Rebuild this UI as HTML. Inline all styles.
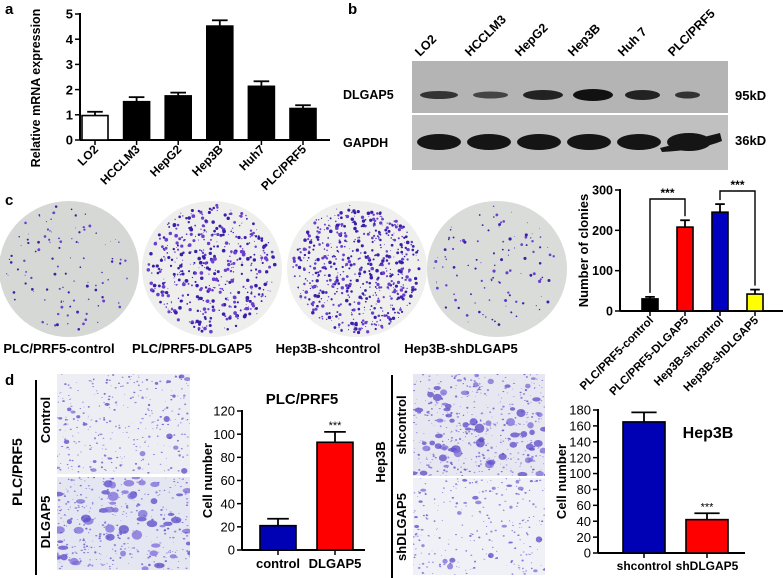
<!DOCTYPE html>
<html><head><meta charset="utf-8">
<style>
html,body{margin:0;padding:0;background:#fff;}
svg{display:block;font-family:"Liberation Sans",Arial,sans-serif;}
text{font-family:"Liberation Sans",Arial,sans-serif;}
</style></head>
<body>
<svg id="fig" width="783" height="578" viewBox="0 0 783 578" xmlns="http://www.w3.org/2000/svg">
<g id="art"></g>
<g id="charts"></g>
</svg>
<script>
// ---------- Panel a data ----------
const aCats = ["LO2","HCCLM3","HepG2","Hep3B","Huh7","PLC/PRF5"];
const aVals = [0.97,1.52,1.75,4.52,2.13,1.25];
const aErr = [0.15,0.18,0.13,0.23,0.2,0.13];
const aTicks = [0,1,2,3,4,5];
// ---------- Panel c chart data ----------
const cCats = ["PLC/PRF5-control","PLC/PRF5-DLGAP5","Hep3B-shcontrol","Hep3B-shDLGAP5"];
const cVals = [30,208,245,42];
const cErr = [5,17,20,11];
const cTicks = [0,100,200,300];
// ---------- Panel d left ----------
const d1Cats = ["control","DLGAP5"];
const d1Vals = [21,93];
const d1Err = [6,9];
const d1Ticks = [0,20,40,60,80,100,120];
// ---------- Panel d right ----------
const d2Cats = ["shcontrol","shDLGAP5"];
const d2Vals = [165,42];
const d2Err = [12,8];
const d2Ticks = [0,20,40,60,80,100,120,140,160,180];

const NS="http://www.w3.org/2000/svg";
const charts=document.getElementById('charts');
const art=document.getElementById('art');
function mk(tag,attrs,parent,txt){const e=document.createElementNS(NS,tag);for(const k in attrs)e.setAttribute(k,attrs[k]);if(txt!==undefined)e.textContent=txt;(parent||charts).appendChild(e);return e;}

let seed=12345;function rnd(){seed=(seed*1103515245+12345)%2147483648;return seed/2147483648;}

function barChart(o){
  const g=mk('g',{},charts);
  
  
  const y=v=>o.y0-(v-o.min)/(o.max-o.min)*(o.y0-o.y1);
  const bx=i=>o.barX[0]+i*o.step;
  const ya=mk('line',{x1:o.ax,y1:o.y1-1,x2:o.ax,y2:o.y0,stroke:'#000','stroke-width':2},g);
  
  const xa=mk('line',{x1:o.ax,y1:o.y0,x2:o.axEnd,y2:o.y0,stroke:'#000','stroke-width':2},g);
  
  o.ticks.forEach(t=>{
    mk('line',{x1:o.ax-5,y1:y(t),x2:o.ax,y2:y(t),stroke:'#000','stroke-width':1.5},g);
    const tl=mk('text',{x:o.ax-7,y:y(t)+o.fs*0.36,'text-anchor':'end','font-size':o.fs,'font-weight':o.tickBold?'bold':'normal'},g,t);
    
  });
  o.cats.forEach((c,i)=>{
    const x=bx(i),w=o.bw,v=o.vals[i];
    const top=y(v+o.err[i]);
    mk('line',{x1:x+w/2,y1:top,x2:x+w/2,y2:y(v),stroke:'#000','stroke-width':1.8},g);
    mk('line',{x1:x+w/2-w*0.3,y1:top,x2:x+w/2+w*0.3,y2:top,stroke:'#000','stroke-width':1.8},g);
    const r=mk('rect',{x:x,y:y(v),width:w,height:o.y0-y(v),fill:o.colors[i],stroke:'#000','stroke-width':1.6},g);
    
    
    mk('line',{x1:x+w/2,y1:o.y0,x2:x+w/2,y2:o.y0+5,stroke:'#000','stroke-width':1.5},g);
    let lt;
    if(o.rot){
      lt=mk('text',{x:x+w/2+4,y:o.y0+10,'text-anchor':'end','font-size':o.lfs,'font-weight':'bold',transform:`rotate(-45 ${x+w/2+4} ${o.y0+10})`},g,c);
    }else{
      lt=mk('text',{x:x+w/2,y:o.y0+o.lfs+5,'text-anchor':'middle','font-size':o.lfs,'font-weight':'bold'},g,c);
    }
    
    if(o.stars&&o.stars[i]){
      const s=mk('text',{x:x+w/2,y:top-3,'text-anchor':'middle','font-size':11},g,'***');
      
    }
  });
  const yt=mk('text',{x:o.titleX,y:o.titleY||(o.y0+o.y1)/2,'text-anchor':'middle','font-size':o.tfs,'font-weight':'bold',transform:`rotate(-90 ${o.titleX} ${o.titleY||(o.y0+o.y1)/2})`},g,o.ytitle);
  
  return {g,y,bx};
}

barChart({name:'mrna-expression-chart',cats:aCats,vals:aVals,err:aErr,ticks:aTicks,min:0,max:5,
  ax:80,axEnd:330,y0:140,y1:14,barX:[82],step:41.6,bw:26,colors:['#fff','#000','#000','#000','#000','#000'],
  fs:13,tickBold:true,lfs:12,rot:true,ytitle:'Relative mRNA expression',titleX:40,titleY:88,tfs:12.5});

const cc=barChart({name:'clone-number-chart',cats:cCats,vals:cVals,err:cErr,ticks:cTicks,min:0,max:300,
  ax:620,axEnd:783,y0:311,y1:190,barX:[642],step:35,bw:16,colors:['#000','#ff0000','#0000c0','#ffff00'],
  fs:12.5,tickBold:true,lfs:11.5,rot:true,ytitle:'Number of clonies',titleX:588,tfs:13});
function bracket(i,j,yy){
  const x1=cc.bx(i)+8,x2=cc.bx(j)+8;
  const b=mk('path',{d:`M${x1} ${cc.y(cVals[i]+cErr[i])-4} V${yy} H${x2} V${cc.y(cVals[j]+cErr[j])-4}`,fill:'none',stroke:'#000','stroke-width':1.4},cc.g);
  
  const t=mk('text',{x:(x1+x2)/2,y:yy-2,'text-anchor':'middle','font-size':12,'font-weight':'bold'},cc.g,'***');
  
}
bracket(0,1,199);bracket(2,3,191);

const d1=barChart({name:'plc-migration-chart',cats:d1Cats,vals:d1Vals,err:d1Err,ticks:d1Ticks,min:0,max:120,
  ax:242,axEnd:365,y0:550,y1:411,barX:[260],step:57,bw:36,colors:['#0000b4','#ff0000'],
  fs:13,tickBold:false,lfs:13,rot:false,ytitle:'Cell number',titleX:212,tfs:13,stars:[0,1]});
const t1=mk('text',{x:302,y:404,'text-anchor':'middle','font-size':15,'font-weight':'bold'},d1.g,'PLC/PRF5');


const d2=barChart({name:'hep3b-migration-chart',cats:d2Cats,vals:d2Vals,err:d2Err,ticks:d2Ticks,min:0,max:180,
  ax:598,axEnd:745,y0:553,y1:410,barX:[623],step:63,bw:42,colors:['#0000b4','#ff0000'],
  fs:13,tickBold:false,lfs:12,rot:false,ytitle:'Cell number',titleX:566,tfs:13,stars:[0,1]});
const t2=mk('text',{x:708,y:438,'text-anchor':'middle','font-size':16,'font-weight':'bold'},d2.g,'Hep3B');


[['a',5,14],['b',348,14],['c',5,205],['d',5,385]].forEach(([l,x,y])=>{
  const t=mk('text',{x:x,y:y,'font-size':15,'font-weight':'bold'},charts,l);
  
});

const blotLanes=["LO2","HCCLM3","HepG2","Hep3B","Huh 7","PLC/PRF5"];
const laneX=[405,455,505,558,608,658];
const wb=mk('g',{},art);

mk('rect',{x:412,y:61,width:316,height:52,fill:'#b4b4b4'},wb);
mk('rect',{x:412,y:115,width:316,height:55,fill:'#c0c0c0'},wb);
const dlg=[[420,458,4,'#333'],[473,508,3.5,'#444'],[523,563,5,'#222'],[573,613,6,'#111'],[625,660,5,'#222'],[675,700,3.5,'#333']];
dlg.forEach(b=>mk('ellipse',{cx:(b[0]+b[1])/2,cy:95,rx:(b[1]-b[0])/2,ry:b[2],fill:b[3]},wb));
[420,470,520,570,620,670].forEach((x,i)=>mk('ellipse',{cx:x+19,cy:142,rx:22,ry:i==5?9:8,fill:'#151515'},wb));
mk('path',{d:'M660 148 Q700 138 720 133 L722 141 Q700 150 662 152Z',fill:'#151515'},wb);
blotLanes.forEach((l,i)=>{
  const x=laneX[i]+15,y=57;
  const t=mk('text',{x:x,y:y,'font-size':12.5,'font-weight':'bold',transform:`rotate(-45 ${x} ${y})`},wb,l);
  
});
[['DLGAP5',343,99],['GAPDH',343,147]].forEach(([s,x,y])=>{const t=mk('text',{x:x,y:y,'font-size':12.5,'font-weight':'bold'},wb,s);});
[['95kD',735,100],['36kD',735,145]].forEach(([s,x,y])=>{const t=mk('text',{x:x,y:y,'font-size':13,'font-weight':'bold'},wb,s);});

const plates=[[69,'#d6d8d5',110,1.1],[212,'#eeeeec',480,1.5],[357,'#efefed',600,1.4],[497,'#d9dcd8',110,1.2]];
const plateNames=["PLC/PRF5-control","PLC/PRF5-DLGAP5","Hep3B-shcontrol","Hep3B-shDLGAP5"];
const plateLabelX=[59,192,328,461];
plates.forEach((p,i)=>{
  const g=mk('g',{},art);
  
  mk('ellipse',{cx:p[0],cy:269,rx:70,ry:68,fill:p[1]},g);
  for(let k=0;k<p[2];k++){
    const a=rnd()*Math.PI*2,r=Math.sqrt(rnd())*64;
    mk('circle',{cx:p[0]+Math.cos(a)*r,cy:269+Math.sin(a)*r,r:0.4+rnd()*p[3],fill:rnd()<0.5?'#3a1fa8':'#6a3fd0'},g);
  }
});
plateNames.forEach((n,i)=>{
  const t=mk('text',{x:plateLabelX[i],y:353,'text-anchor':'middle','font-size':13,'font-weight':'bold'},art,n);
  
});

function micro(x,y,w,h,bg,n,blob,pb,name){
  const g=mk('g',{},art);
  
  mk('rect',{x:x,y:y,width:w,height:h,fill:bg},g);
  const cp='cp'+Math.floor(x)+'_'+Math.floor(y);
  const c=mk('clipPath',{id:cp},g);mk('rect',{x:x,y:y,width:w,height:h},c);
  const gg=mk('g',{'clip-path':`url(#${cp})`},g);
  for(let k=0;k<n;k++){
    const rr=rnd()<pb?blob*(0.5+rnd()*0.6):0.4+rnd()*0.9;
    mk('ellipse',{cx:x+rnd()*w,cy:y+rnd()*h,rx:rr,ry:rr*(0.4+rnd()*0.6),fill:rnd()<0.5?'#5a4ac8':'#7c6ad8','fill-opacity':0.75},gg);
  }
}
micro(57,374,133,100,'#eceef4',320,3,0.06,'control-image');
micro(57,477,133,93,'#e4e6f2',420,5,0.12,'dlgap5-image');
micro(413,374,132,102,'#e6e7f0',500,4.5,0.12,'shcontrol-image');
micro(413,478,132,97,'#f0f1f6',260,3,0.08,'shdlgap5-image');
mk('line',{x1:36,y1:380,x2:36,y2:575,stroke:'#000','stroke-width':2},art);
mk('line',{x1:392,y1:375,x2:392,y2:578,stroke:'#000','stroke-width':2},art);
[['PLC/PRF5',22,472,14],['Control',50,420,13],['DLGAP5',50,522,13],['Hep3B',385,462,13],['shcontrol',406,425,13],['shDLGAP5',406,527,13]].forEach(([s,x,y,f])=>{
  const t=mk('text',{x:x,y:y,'text-anchor':'middle','font-size':f,'font-weight':'bold',transform:`rotate(-90 ${x} ${y})`},art,s);
  
});
</script>
</body></html>
